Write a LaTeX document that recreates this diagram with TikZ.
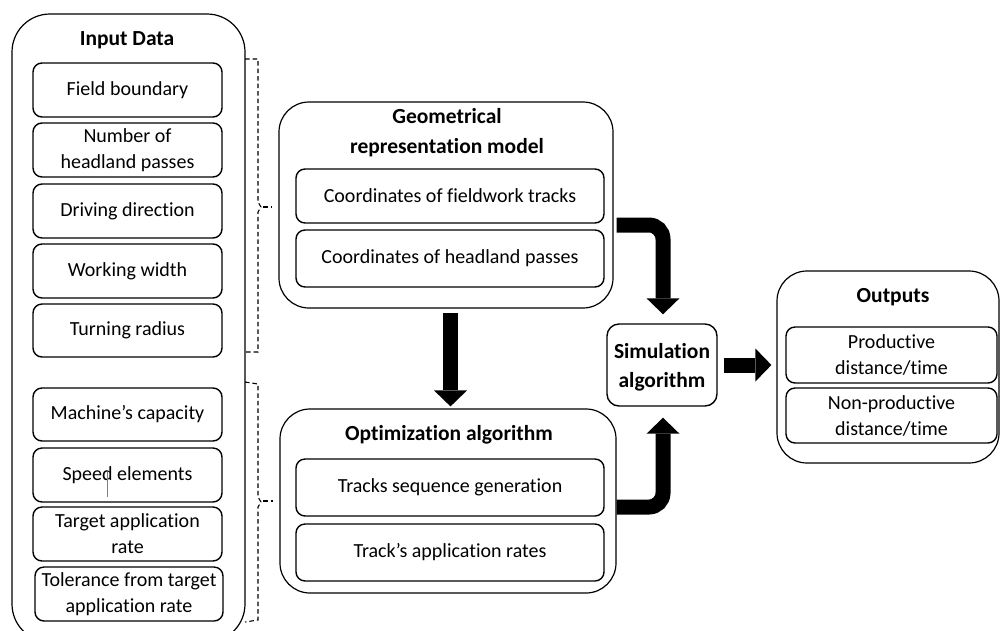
\documentclass[tikz,border=0pt]{standalone}
\usepackage{fontspec}
\setmainfont{Carlito}[Ligatures=NoCommon]
\usetikzlibrary{arrows.meta,calc}
\begin{document}
\begin{tikzpicture}[x=1pt,y=-1pt,
  outerbox/.style={draw, line width=1.2pt, inner sep=0pt},
  innerbox/.style={draw, line width=1.4pt, rounded corners=9pt, inner sep=0pt, align=center, font=\fontsize{20}{26}\selectfont},
  titletext/.style={inner sep=0pt, align=center, font=\bfseries\fontsize{21.5}{30}\selectfont},
  bigarrow/.style={line width=15pt, -{Triangle[width=33pt,length=16pt,line width=0pt]}, rounded corners=14pt},
  brace/.style={dash pattern=on 4.5pt off 3pt, line width=1.1pt},
]
\clip (0,0) rectangle (1000,630);
\fill[white] (0,0) rectangle (1000,630);

% ---------- Input Data ----------
\node[outerbox, rounded corners=38pt, minimum width=233pt, minimum height=628pt] (inbox) at (128.5,328) {};
\node[titletext] (intitle) at (127,40) {Input Data};
\node[innerbox, minimum width=189pt, minimum height=54pt] (i1) at (127.5,90) {Field boundary};
\node[innerbox, minimum width=189pt, minimum height=54pt] (i2) at (127.5,150) {Number of\\headland passes};
\node[innerbox, minimum width=189pt, minimum height=54pt] (i3) at (127.5,211) {Driving direction};
\node[innerbox, minimum width=189pt, minimum height=54pt] (i4) at (127.5,271) {Working width};
\node[innerbox, minimum width=189pt, minimum height=53pt] (i5) at (127.5,330.5) {Turning radius};
\node[innerbox, minimum width=189pt, minimum height=53pt] (i6) at (127.5,414.5) {Machine’s capacity};
\node[innerbox, minimum width=189pt, minimum height=54pt] (i7) at (127.5,475) {Speed elements};
\node[innerbox, minimum width=189pt, minimum height=54pt] (i8) at (127.5,534) {Target application\\rate};
\node[innerbox, minimum width=188pt, minimum height=54pt] (i9) at (129,594) {Tolerance from target\\application rate};
\draw[line width=0.6pt, gray] (107,472) -- (107,497);

% ---------- dashed braces ----------
\draw[brace] (245,59) -- (258,59) -- (258,202) -- (261,207) -- (258,212) -- (258,352) -- (245,352);
\draw[brace] (263,207) -- (271,207);
\draw[brace] (245,382) -- (258,384) -- (258,497) -- (261,502) -- (258,507) -- (258,620) -- (245,622);
\draw[brace] (263,501) -- (273,501);

% ---------- Geometrical representation model ----------
\node[outerbox, rounded corners=30pt, minimum width=334pt, minimum height=206pt] (geo) at (446,205) {};
\node[titletext] (geotitle) at (447,133) {Geometrical\\representation model};
\node[innerbox, minimum width=308pt, minimum height=54pt] (g1) at (450,196) {Coordinates of fieldwork tracks};
\node[innerbox, minimum width=308pt, minimum height=57pt] (g2) at (450,258.5) {Coordinates of headland passes};

% ---------- Optimization algorithm ----------
\node[outerbox, rounded corners=30pt, minimum width=336pt, minimum height=184pt] (opt) at (448,501) {};
\node[titletext] (opttitle) at (449,435) {Optimization algorithm};
\node[innerbox, minimum width=308pt, minimum height=57pt] (o1) at (450,487.5) {Tracks sequence generation};
\node[innerbox, minimum width=308pt, minimum height=57pt] (o2) at (450,552.5) {Track’s application rates};

% ---------- Simulation algorithm ----------
\node[outerbox, line width=1.4pt, rounded corners=12pt, minimum width=110pt, minimum height=82pt] (sim) at (662,365) {};
\node[titletext, font=\bfseries\fontsize{21.5}{29}\selectfont] (simtext) at (662,367.5) {Simulation\\algorithm};

% ---------- Outputs ----------
\node[outerbox, rounded corners=30pt, minimum width=222pt, minimum height=192pt] (outbox) at (888,367) {};
\node[titletext] (outtitle) at (893,297) {Outputs};
\node[innerbox, minimum width=211pt, minimum height=56pt] (p1) at (891.5,355) {Productive\\distance/time};
\node[innerbox, minimum width=211pt, minimum height=55pt] (p2) at (891.5,415.5) {Non-productive\\distance/time};

% ---------- arrows ----------
\draw[bigarrow, shorten <=4pt, shorten >=2pt] ([xshift=4.5pt]geo.south) -- ([xshift=4.5pt]geo.south |- opt.north);
\draw[bigarrow, shorten <=3pt, shorten >=9pt] ([yshift=-20pt]geo.east) -| ([xshift=1pt]sim.north);
\draw[bigarrow, shorten <=0pt, shorten >=11pt] ([yshift=-6pt]opt.east) -| ([xshift=1pt]sim.south);
\draw[bigarrow, shorten <=6pt, shorten >=5pt] (sim.east) -- (sim.east -| outbox.west);
\end{tikzpicture}
\end{document}
